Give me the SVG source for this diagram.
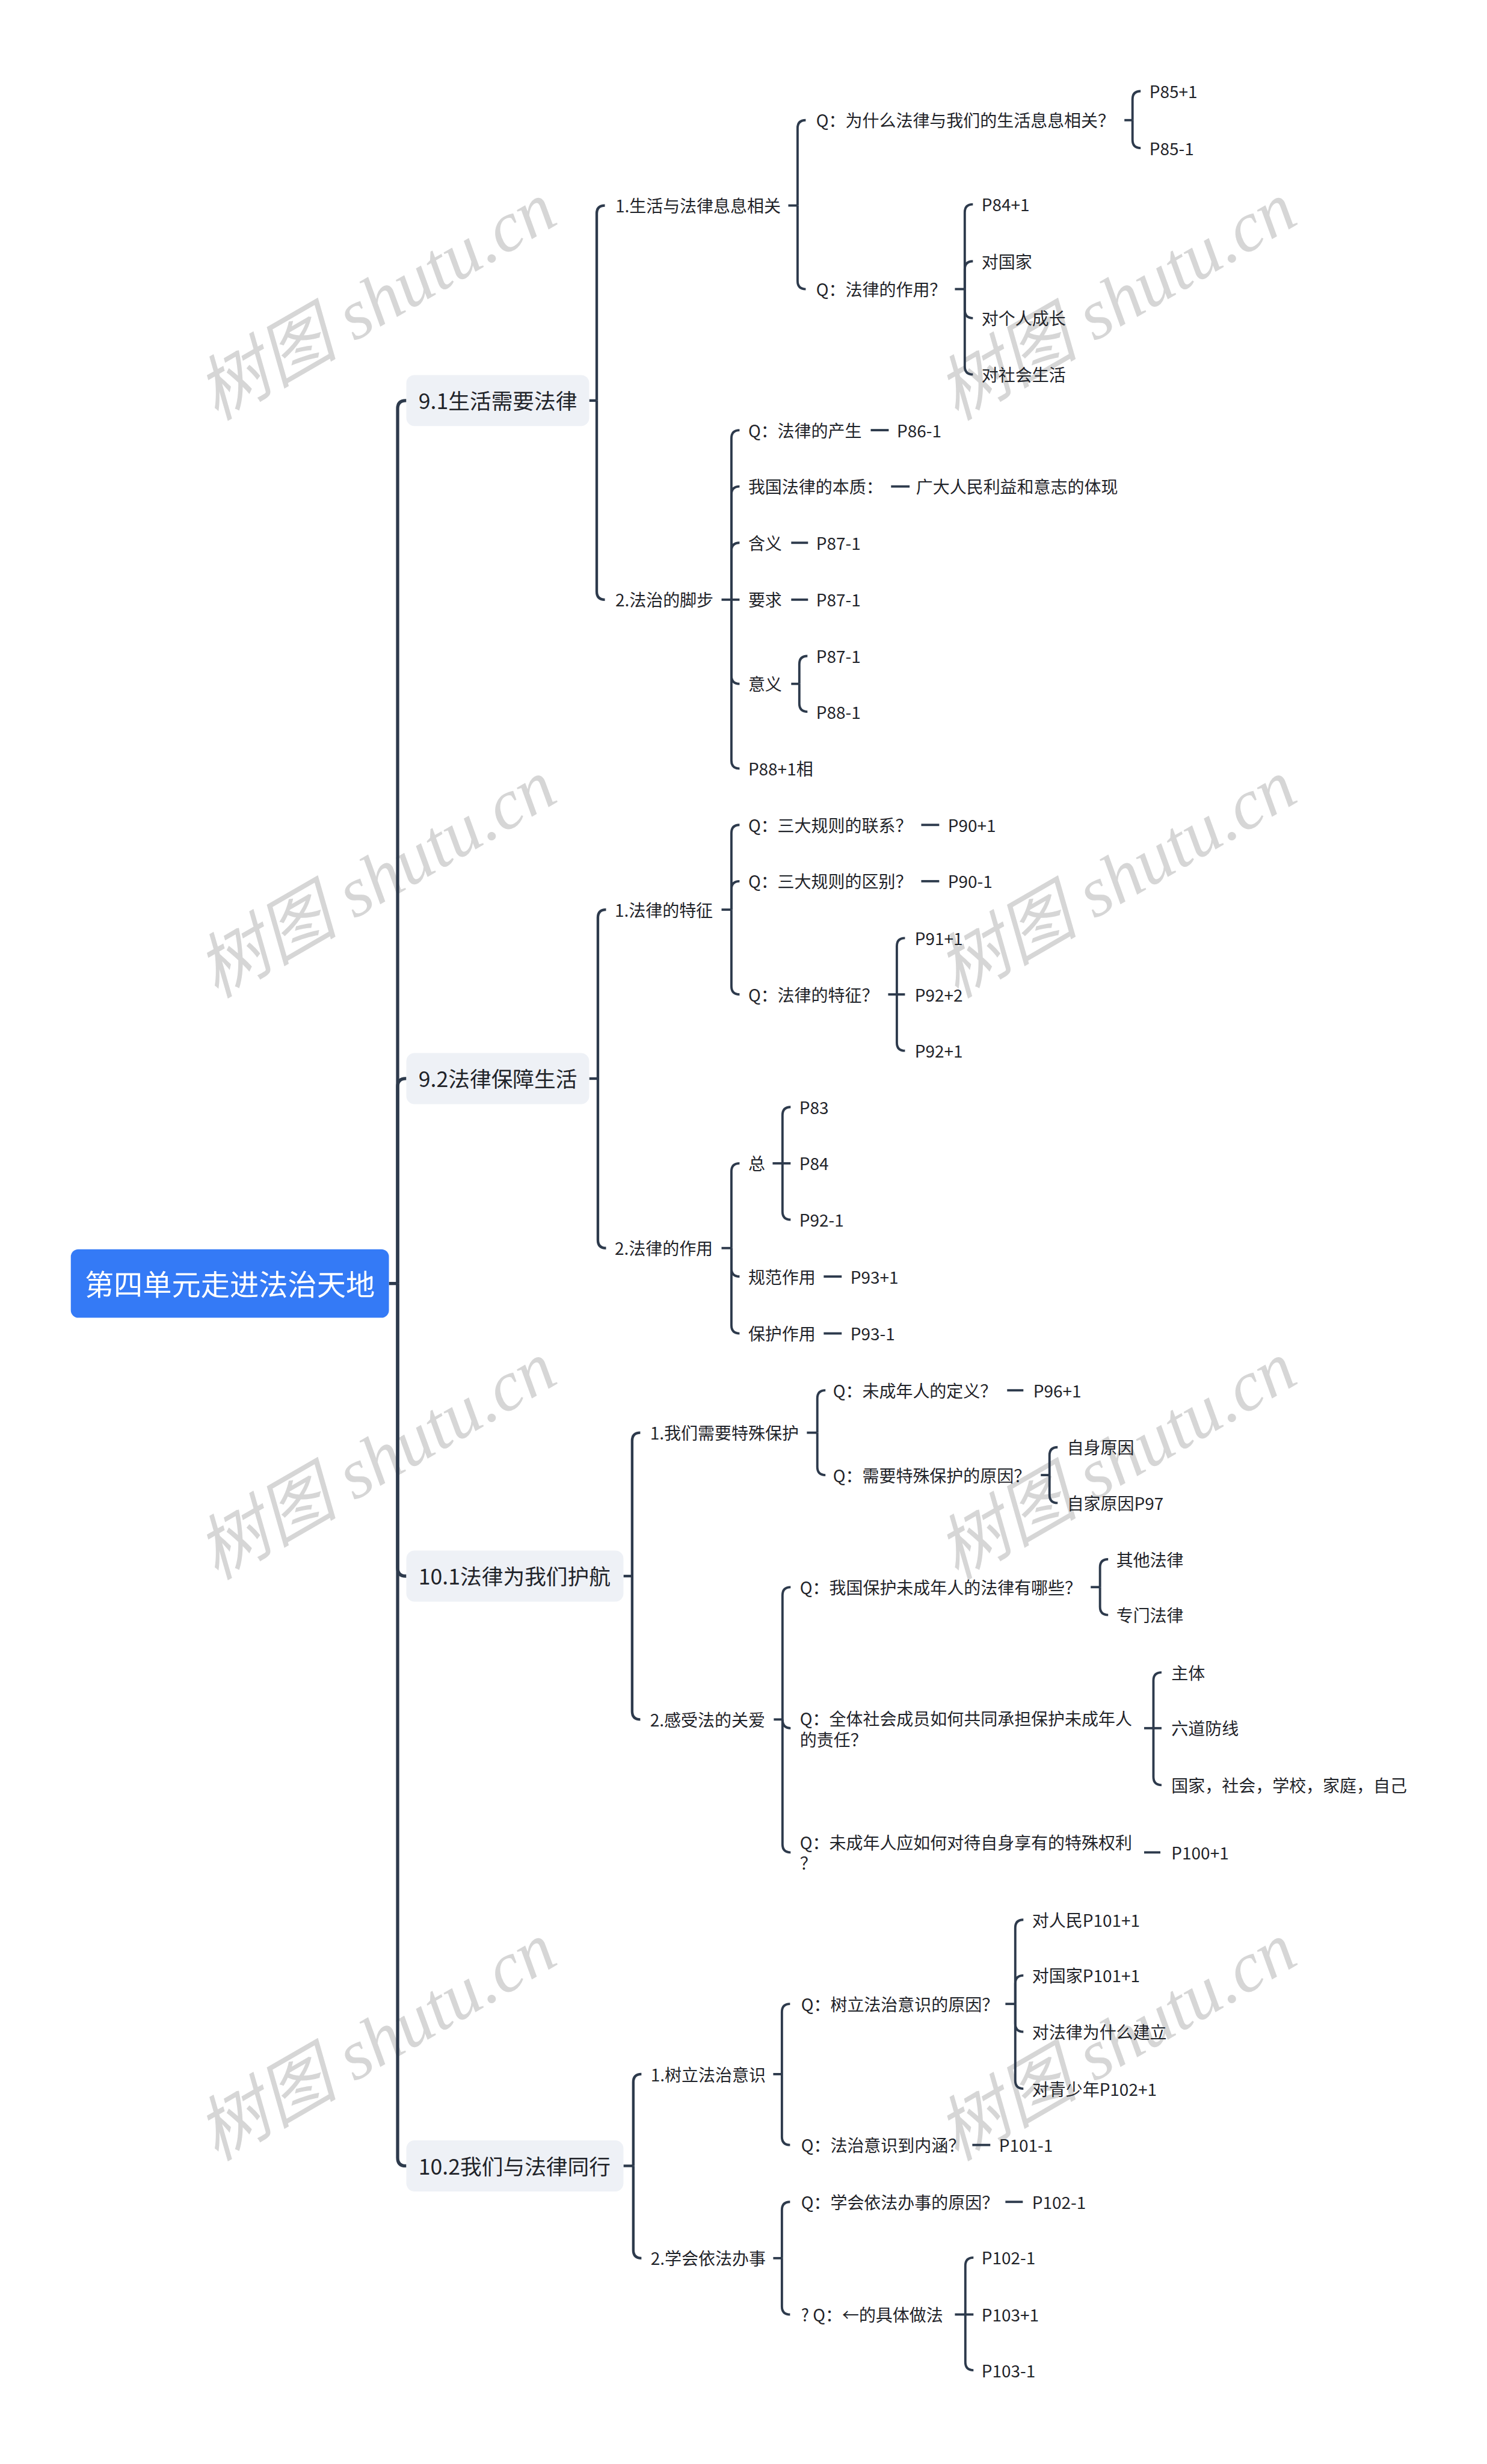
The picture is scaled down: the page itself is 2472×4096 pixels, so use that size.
<svg xmlns="http://www.w3.org/2000/svg" width="2472" height="4096" viewBox="0 0 2472 4096">
<style>
.wm{font-family:"Liberation Serif","Noto Sans CJK SC",serif;font-style:italic;font-size:122px;fill:#d6d6d6;text-anchor:middle}
.c1{fill:none;stroke:#2d3a4c;stroke-width:5.5}
.c2{fill:none;stroke:#2d3a4c;stroke-width:4.5}
.c3{fill:none;stroke:#2d3a4c;stroke-width:4}
text{font-family:"Noto Sans CJK SC","Noto Sans",sans-serif}
.t0{font-size:50px;fill:#ffffff;text-anchor:middle}
.t1{font-size:37px;fill:#1f2329}
.t{font-size:29px;fill:#1f2329}
.t0,.t1,.t{transform:translateY(2px)}
.b1{fill:#eef1f6}
</style>
<rect width="2472" height="4096" fill="#ffffff"/>
<g transform="scale(0.965)">
<g id="watermarks">
<text class="wm" transform="rotate(-30 649 520)" x="649" y="560">树图 shutu.cn</text>
<text class="wm" transform="rotate(-30 1924 520)" x="1924" y="560">树图 shutu.cn</text>
<text class="wm" transform="rotate(-30 649 1515)" x="649" y="1555">树图 shutu.cn</text>
<text class="wm" transform="rotate(-30 1924 1515)" x="1924" y="1555">树图 shutu.cn</text>
<text class="wm" transform="rotate(-30 649 2517)" x="649" y="2557">树图 shutu.cn</text>
<text class="wm" transform="rotate(-30 1924 2517)" x="1924" y="2557">树图 shutu.cn</text>
<text class="wm" transform="rotate(-30 649 3518)" x="649" y="3558">树图 shutu.cn</text>
<text class="wm" transform="rotate(-30 1924 3518)" x="1924" y="3558">树图 shutu.cn</text>
</g>
<g id="connectors">
<path class="c1" d="M670,2211H685"/>
<path class="c1" d="M685,2211V704Q685,690 699,690H700"/>
<path class="c1" d="M685,2211V1872Q685,1858 699,1858H700"/>
<path class="c1" d="M685,2211V2701Q685,2715 699,2715H700"/>
<path class="c1" d="M685,2211V3717Q685,3731 699,3731H700"/>
<path class="c2" d="M1015,690H1028"/>
<path class="c2" d="M1028,690V368Q1028,354 1042,354"/>
<path class="c2" d="M1028,690V1019Q1028,1033 1042,1033"/>
<path class="c2" d="M1015,1858H1030"/>
<path class="c2" d="M1030,1858V1581Q1030,1567 1044,1567"/>
<path class="c2" d="M1030,1858V2136Q1030,2150 1044,2150"/>
<path class="c2" d="M1074,2715H1089"/>
<path class="c2" d="M1089,2715V2482Q1089,2468 1103,2468"/>
<path class="c2" d="M1089,2715V2948Q1089,2962 1103,2962"/>
<path class="c2" d="M1074,3731H1091"/>
<path class="c2" d="M1091,3731V3587Q1091,3573 1105,3573"/>
<path class="c2" d="M1091,3731V3876Q1091,3890 1105,3890"/>
<path class="c3" d="M1358,354H1374"/>
<path class="c3" d="M1374,354V221Q1374,207 1388,207"/>
<path class="c3" d="M1374,354V484Q1374,498 1388,498"/>
<path class="c3" d="M1937,207H1951"/>
<path class="c3" d="M1951,207V171Q1951,157 1965,157"/>
<path class="c3" d="M1951,207V241Q1951,255 1965,255"/>
<path class="c3" d="M1645,498H1662"/>
<path class="c3" d="M1662,498V366Q1662,352 1676,352"/>
<path class="c3" d="M1662,498V464Q1662,450 1676,450"/>
<path class="c3" d="M1662,498V534Q1662,548 1676,548"/>
<path class="c3" d="M1662,498V631Q1662,645 1676,645"/>
<path class="c3" d="M1243,1033H1260"/>
<path class="c3" d="M1260,1033V755Q1260,741 1274,741"/>
<path class="c3" d="M1260,1033V852Q1260,838 1274,838"/>
<path class="c3" d="M1260,1033V949Q1260,935 1274,935"/>
<path class="c3" d="M1260,1033H1274"/>
<path class="c3" d="M1260,1033V1164Q1260,1178 1274,1178"/>
<path class="c3" d="M1260,1033V1310Q1260,1324 1274,1324"/>
<path class="c3" d="M1500,741H1531"/>
<path class="c3" d="M1535,838H1567"/>
<path class="c3" d="M1363,935H1392"/>
<path class="c3" d="M1363,1033H1392"/>
<path class="c3" d="M1363,1178H1377"/>
<path class="c3" d="M1377,1178V1144Q1377,1130 1391,1130"/>
<path class="c3" d="M1377,1178V1212Q1377,1226 1391,1226"/>
<path class="c3" d="M1243,1567H1260"/>
<path class="c3" d="M1260,1567V1435Q1260,1421 1274,1421"/>
<path class="c3" d="M1260,1567V1532Q1260,1518 1274,1518"/>
<path class="c3" d="M1260,1567V1699Q1260,1713 1274,1713"/>
<path class="c3" d="M1587,1421H1618"/>
<path class="c3" d="M1587,1518H1618"/>
<path class="c3" d="M1530,1713H1545"/>
<path class="c3" d="M1545,1713V1630Q1545,1616 1559,1616"/>
<path class="c3" d="M1545,1713H1559"/>
<path class="c3" d="M1545,1713V1796Q1545,1810 1559,1810"/>
<path class="c3" d="M1243,2150H1260"/>
<path class="c3" d="M1260,2150V2018Q1260,2004 1274,2004"/>
<path class="c3" d="M1260,2150V2185Q1260,2199 1274,2199"/>
<path class="c3" d="M1260,2150V2283Q1260,2297 1274,2297"/>
<path class="c3" d="M1331,2004H1348"/>
<path class="c3" d="M1348,2004V1921Q1348,1907 1362,1907"/>
<path class="c3" d="M1348,2004H1362"/>
<path class="c3" d="M1348,2004V2087Q1348,2101 1362,2101"/>
<path class="c3" d="M1419,2199H1450"/>
<path class="c3" d="M1419,2297H1450"/>
<path class="c3" d="M1390,2468H1408"/>
<path class="c3" d="M1408,2468V2409Q1408,2395 1422,2395"/>
<path class="c3" d="M1408,2468V2527Q1408,2541 1422,2541"/>
<path class="c3" d="M1735,2395H1763"/>
<path class="c3" d="M1793,2541H1808"/>
<path class="c3" d="M1808,2541V2507Q1808,2493 1822,2493"/>
<path class="c3" d="M1808,2541V2575Q1808,2589 1822,2589"/>
<path class="c3" d="M1333,2962H1348"/>
<path class="c3" d="M1348,2962V2748Q1348,2734 1362,2734"/>
<path class="c3" d="M1348,2962Q1348,2977 1362,2977"/>
<path class="c3" d="M1348,2962V3177Q1348,3191 1362,3191"/>
<path class="c3" d="M1879,2734H1895"/>
<path class="c3" d="M1895,2734V2700Q1895,2686 1909,2686"/>
<path class="c3" d="M1895,2734V2768Q1895,2782 1909,2782"/>
<path class="c3" d="M1971,2977H1987"/>
<path class="c3" d="M1987,2977V2895Q1987,2881 2001,2881"/>
<path class="c3" d="M1987,2977H2001"/>
<path class="c3" d="M1987,2977V3061Q1987,3075 2001,3075"/>
<path class="c3" d="M1971,3191H1999"/>
<path class="c3" d="M1332,3573H1347"/>
<path class="c3" d="M1347,3573V3466Q1347,3452 1361,3452"/>
<path class="c3" d="M1347,3573V3681Q1347,3695 1361,3695"/>
<path class="c3" d="M1732,3452H1749"/>
<path class="c3" d="M1749,3452V3321Q1749,3307 1763,3307"/>
<path class="c3" d="M1749,3452V3417Q1749,3403 1763,3403"/>
<path class="c3" d="M1749,3452V3486Q1749,3500 1763,3500"/>
<path class="c3" d="M1749,3452V3584Q1749,3598 1763,3598"/>
<path class="c3" d="M1675,3695H1706"/>
<path class="c3" d="M1332,3890H1347"/>
<path class="c3" d="M1347,3890V3807Q1347,3793 1361,3793"/>
<path class="c3" d="M1347,3890V3973Q1347,3987 1361,3987"/>
<path class="c3" d="M1732,3793H1762"/>
<path class="c3" d="M1645,3987H1663"/>
<path class="c3" d="M1663,3987V3903Q1663,3889 1677,3889"/>
<path class="c3" d="M1663,3987H1677"/>
<path class="c3" d="M1663,3987V4069Q1663,4083 1677,4083"/>
</g>
<g id="root"><rect x="122" y="2152" width="548" height="118" rx="13" fill="#347af6"/><text class="t0" x="396" y="2229">第四单元走进法治天地</text></g>
<g id="n91"><rect class="b1" x="700" y="646" width="315" height="88" rx="14"/><text class="t1" x="721" y="703">9.1生活需要法律</text></g>
<g id="n92"><rect class="b1" x="700" y="1814" width="315" height="88" rx="14"/><text class="t1" x="721" y="1871">9.2法律保障生活</text></g>
<g id="n101"><rect class="b1" x="700" y="2671" width="374" height="88" rx="14"/><text class="t1" x="721" y="2728">10.1法律为我们护航</text></g>
<g id="n102"><rect class="b1" x="700" y="3687" width="374" height="88" rx="14"/><text class="t1" x="721" y="3744">10.2我们与法律同行</text></g>
<g id="a1"><text class="t" x="1060" y="364">1.生活与法律息息相关</text></g>
<g id="a1q1"><text class="t" x="1406" y="217">Q：为什么法律与我们的生活息息相关？</text></g>
<g id="a1q1p1"><text class="t" x="1980" y="167">P85+1</text></g>
<g id="a1q1p2"><text class="t" x="1980" y="265">P85-1</text></g>
<g id="a1q2"><text class="t" x="1406" y="508">Q：法律的作用？</text></g>
<g id="a1q2a"><text class="t" x="1691" y="362">P84+1</text></g>
<g id="a1q2b"><text class="t" x="1691" y="460">对国家</text></g>
<g id="a1q2c"><text class="t" x="1691" y="558">对个人成长</text></g>
<g id="a1q2d"><text class="t" x="1691" y="655">对社会生活</text></g>
<g id="a2"><text class="t" x="1060" y="1043">2.法治的脚步</text></g>
<g id="a2a"><text class="t" x="1289" y="751">Q：法律的产生</text></g>
<g id="a2a1"><text class="t" x="1545" y="751">P86-1</text></g>
<g id="a2b"><text class="t" x="1289" y="848">我国法律的本质：</text></g>
<g id="a2b1"><text class="t" x="1578" y="848">广大人民利益和意志的体现</text></g>
<g id="a2c"><text class="t" x="1289" y="945">含义</text></g>
<g id="a2c1"><text class="t" x="1406" y="945">P87-1</text></g>
<g id="a2d"><text class="t" x="1289" y="1043">要求</text></g>
<g id="a2d1"><text class="t" x="1406" y="1043">P87-1</text></g>
<g id="a2e"><text class="t" x="1289" y="1188">意义</text></g>
<g id="a2e1"><text class="t" x="1406" y="1140">P87-1</text></g>
<g id="a2e2"><text class="t" x="1406" y="1236">P88-1</text></g>
<g id="a2f"><text class="t" x="1289" y="1334">P88+1相</text></g>
<g id="b1"><text class="t" x="1059" y="1577">1.法律的特征</text></g>
<g id="b1a"><text class="t" x="1289" y="1431">Q：三大规则的联系？</text></g>
<g id="b1a1"><text class="t" x="1633" y="1431">P90+1</text></g>
<g id="b1b"><text class="t" x="1289" y="1528">Q：三大规则的区别？</text></g>
<g id="b1b1"><text class="t" x="1633" y="1528">P90-1</text></g>
<g id="b1c"><text class="t" x="1289" y="1723">Q：法律的特征？</text></g>
<g id="b1c1"><text class="t" x="1576" y="1626">P91+1</text></g>
<g id="b1c2"><text class="t" x="1576" y="1723">P92+2</text></g>
<g id="b1c3"><text class="t" x="1576" y="1820">P92+1</text></g>
<g id="b2"><text class="t" x="1059" y="2160">2.法律的作用</text></g>
<g id="b2a"><text class="t" x="1289" y="2014">总</text></g>
<g id="b2a1"><text class="t" x="1377" y="1917">P83</text></g>
<g id="b2a2"><text class="t" x="1377" y="2014">P84</text></g>
<g id="b2a3"><text class="t" x="1377" y="2111">P92-1</text></g>
<g id="b2b"><text class="t" x="1289" y="2209">规范作用</text></g>
<g id="b2b1"><text class="t" x="1465" y="2209">P93+1</text></g>
<g id="b2c"><text class="t" x="1289" y="2307">保护作用</text></g>
<g id="b2c1"><text class="t" x="1465" y="2307">P93-1</text></g>
<g id="c1"><text class="t" x="1120" y="2478">1.我们需要特殊保护</text></g>
<g id="c1a"><text class="t" x="1435" y="2405">Q：未成年人的定义？</text></g>
<g id="c1a1"><text class="t" x="1780" y="2405">P96+1</text></g>
<g id="c1b"><text class="t" x="1435" y="2551">Q：需要特殊保护的原因？</text></g>
<g id="c1b1"><text class="t" x="1838" y="2503">自身原因</text></g>
<g id="c1b2"><text class="t" x="1838" y="2599">自家原因P97</text></g>
<g id="c2"><text class="t" x="1120" y="2972">2.感受法的关爱</text></g>
<g id="c2a"><text class="t" x="1378" y="2744">Q：我国保护未成年人的法律有哪些？</text></g>
<g id="c2a1"><text class="t" x="1923" y="2696">其他法律</text></g>
<g id="c2a2"><text class="t" x="1923" y="2792">专门法律</text></g>
<g id="c2b"><text class="t" x="1378" y="2970">Q：全体社会成员如何共同承担保护未成年人<tspan x="1378" y="3006">的责任？</tspan></text></g>
<g id="c2b1"><text class="t" x="2018" y="2891">主体</text></g>
<g id="c2b2"><text class="t" x="2018" y="2987">六道防线</text></g>
<g id="c2b3"><text class="t" x="2018" y="3085">国家，社会，学校，家庭，自己</text></g>
<g id="c2c"><text class="t" x="1378" y="3184">Q：未成年人应如何对待自身享有的特殊权利<tspan x="1378" y="3219">？</tspan></text></g>
<g id="c2c1"><text class="t" x="2018" y="3201">P100+1</text></g>
<g id="d1"><text class="t" x="1121" y="3583">1.树立法治意识</text></g>
<g id="d1a"><text class="t" x="1380" y="3462">Q：树立法治意识的原因？</text></g>
<g id="d1a1"><text class="t" x="1778" y="3317">对人民P101+1</text></g>
<g id="d1a2"><text class="t" x="1778" y="3413">对国家P101+1</text></g>
<g id="d1a3"><text class="t" x="1778" y="3510">对法律为什么建立</text></g>
<g id="d1a4"><text class="t" x="1778" y="3608">对青少年P102+1</text></g>
<g id="d1b"><text class="t" x="1380" y="3705">Q：法治意识到内涵？</text></g>
<g id="d1b1"><text class="t" x="1721" y="3705">P101-1</text></g>
<g id="d2"><text class="t" x="1121" y="3900">2.学会依法办事</text></g>
<g id="d2a"><text class="t" x="1380" y="3803">Q：学会依法办事的原因？</text></g>
<g id="d2a1"><text class="t" x="1778" y="3803">P102-1</text></g>
<g id="d2b"><text class="t" x="1380" y="3997">? Q：←的具体做法</text></g>
<g id="d2b1"><text class="t" x="1691" y="3899">P102-1</text></g>
<g id="d2b2"><text class="t" x="1691" y="3997">P103+1</text></g>
<g id="d2b3"><text class="t" x="1691" y="4093">P103-1</text></g>
</g>
</svg>
